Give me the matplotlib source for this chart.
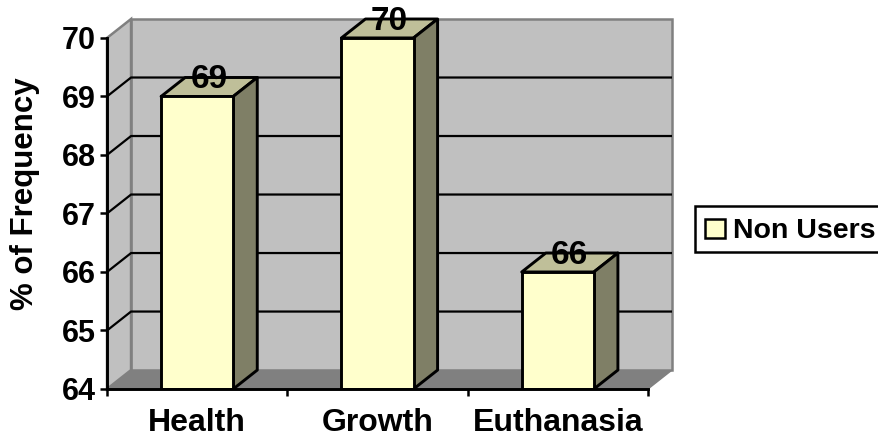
import matplotlib
matplotlib.use('Agg')
import matplotlib.pyplot as plt
from matplotlib.patches import Polygon, Rectangle

plt.rcParams['font.family'] = ['Liberation Sans', 'DejaVu Sans']

categories = ['Health', 'Growth', 'Euthanasia']
non_users = [69, 70, 66]
y_ticks = [64, 65, 66, 67, 68, 69, 70]

W, H = 879, 438
# axes box in pixels, front plane plus the depth offset of the walls
left, right, bottom, top = 107, 672, 389, 19
fig = plt.figure(figsize=(W / 100, H / 100), dpi=100)
ax = fig.add_axes([left / W, 1 - bottom / H, (right - left) / W, (bottom - top) / H])

# depth of the fake 3d effect, in data units
dx = 24 / 180
dy = 19 / 58.67
ymin, ymax = y_ticks[0], y_ticks[-1]
x0, x1 = -0.5, len(categories) - 0.5
ax.set_xlim(x0, x1 + dx)
ax.set_ylim(ymin, ymax + dy)
ax.patch.set_visible(False)

wall = '#C0C0C0'
wall_edge = '#808080'
ax.add_patch(Polygon([(x0, ymin), (x1, ymin), (x1 + dx, ymin + dy), (x0 + dx, ymin + dy)],
                     fc='#808080', ec=wall_edge, lw=1, zorder=1, clip_on=False))
ax.add_patch(Polygon([(x0 + dx, ymin + dy), (x1 + dx, ymin + dy), (x1 + dx, ymax + dy), (x0 + dx, ymax + dy)],
                     fc=wall, ec=wall_edge, lw=1.8, zorder=1, clip_on=False))
ax.add_patch(Polygon([(x0, ymin), (x0 + dx, ymin + dy), (x0 + dx, ymax + dy), (x0, ymax)],
                     fc=wall, ec=wall_edge, lw=1.8, zorder=1, clip_on=False))

# gridlines run along the side wall and across the back wall
for v in y_ticks[1:-1]:
    ax.plot([x0, x0 + dx, x1 + dx - 0.005], [v, v + dy, v + dy], color='black', lw=1.6, zorder=2)

width = 72 / 180
bars = ax.bar(range(len(categories)), [v - ymin for v in non_users], width, bottom=ymin,
              color='#FFFFCC', edgecolor='black', linewidth=2.1, zorder=4, label='Non Users')

for i, v in enumerate(non_users):
    a, b = i - width / 2, i + width / 2
    ax.add_patch(Polygon([(a, v), (b, v), (b + dx, v + dy), (a + dx, v + dy)],
                         fc='#BFBF99', ec='black', lw=2.1, joinstyle='round', zorder=3, clip_on=False))
    ax.add_patch(Polygon([(b, ymin), (b + dx, ymin + dy), (b + dx, v + dy), (b, v)],
                         fc='#7F7F66', ec='black', lw=2.1, joinstyle='round', zorder=3))
    ax.text(i + dx / 2, v + dy - 0.04, str(v), ha='center', va='center', fontsize=24,
            fontweight='bold', zorder=6)

for s in ['top', 'right']:
    ax.spines[s].set_visible(False)
for s in ['left', 'bottom']:
    ax.spines[s].set_linewidth(2.1)
    ax.spines[s].set_zorder(5)
ax.spines['left'].set_bounds(ymin, ymax)
ax.spines['bottom'].set_bounds(x0, x1)

ax.set_yticks(y_ticks)
ax.set_yticklabels([str(v) for v in y_ticks], fontsize=22, fontweight='bold')
ax.tick_params(axis='y', length=5, width=1.8, pad=3)
ax.set_xticks([x0 + i for i in range(len(categories) + 1)])
ax.set_xticklabels([])
ax.tick_params(axis='x', length=5, width=1.8)
ax.set_xticks(range(len(categories)), minor=True)
ax.set_xticklabels(categories, minor=True, fontsize=23, fontweight='bold')
ax.tick_params(axis='x', which='minor', length=0, pad=14)
ax.set_ylabel('% of Frequency', fontsize=22.5, fontweight='bold', va='center', ha='center')
ax.yaxis.set_label_coords(25 / W, 1 - 194 / H, transform=fig.transFigure)

# legend box runs off the right edge, so the frame is drawn apart from its contents
fig.add_artist(Rectangle((695 / W, 1 - 252 / H), 190 / W, 46 / H, transform=fig.transFigure,
                         fc='white', ec='black', lw=1.8, zorder=-1))
leg = ax.legend(handles=[bars], loc='upper left', bbox_to_anchor=(696 / W, 1 - 209 / H),
                bbox_transform=fig.transFigure, prop={'weight': 'bold', 'size': 20.5},
                frameon=False, borderaxespad=0, borderpad=0.33,
                handlelength=0.68, handleheight=0.68, handletextpad=0.3)
leg.set_zorder(7)
for h in leg.get_patches():
    h.set_linewidth(1.8)

fig.savefig('out.png', dpi=100)
